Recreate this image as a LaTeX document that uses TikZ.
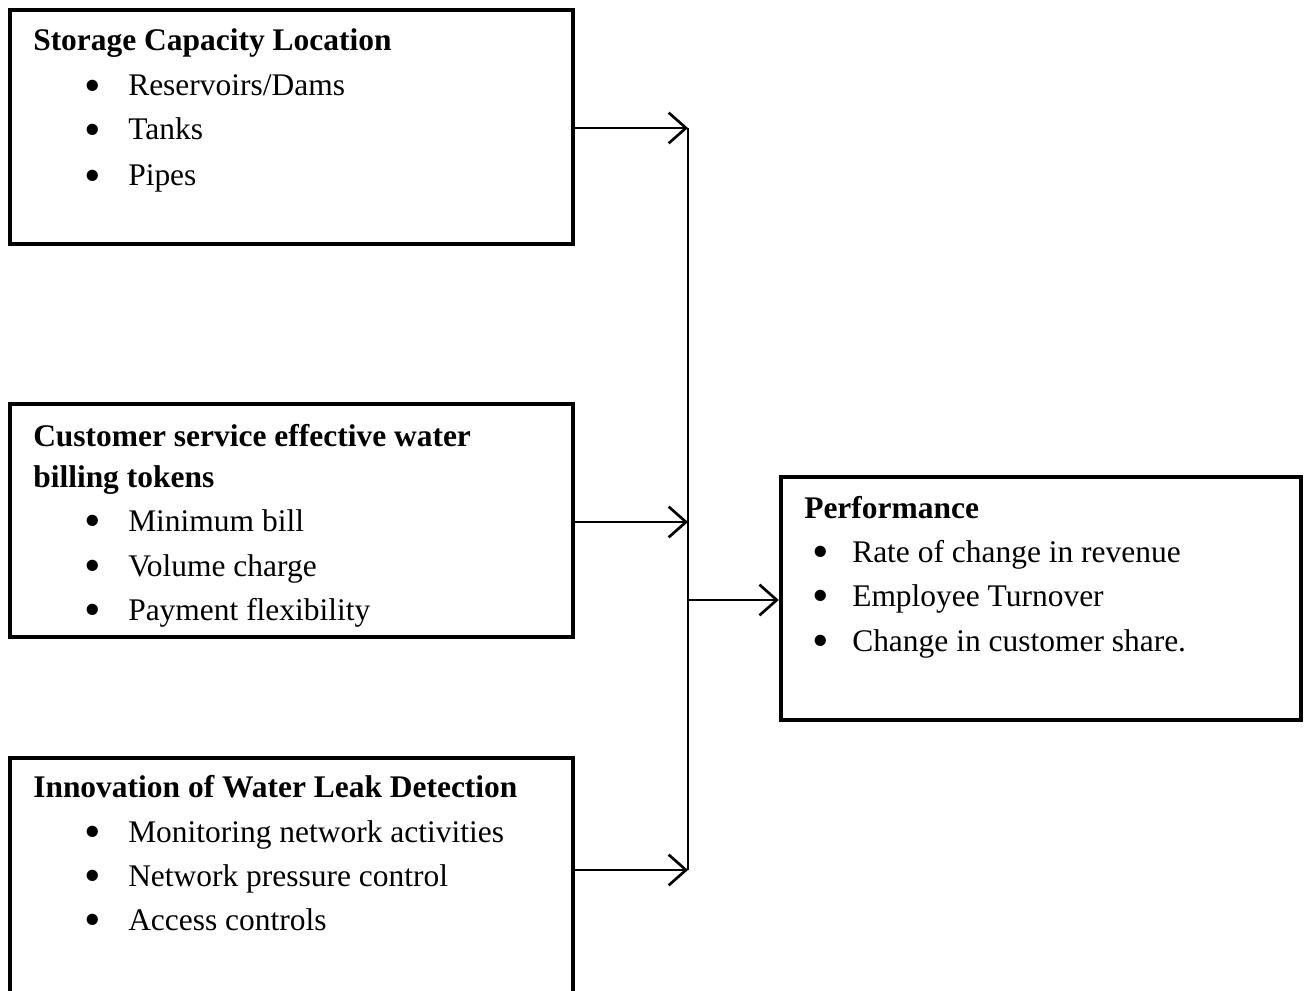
\documentclass[tikz,border=0pt]{standalone}
\usepackage{fontspec}
\setmainfont{Liberation Serif}
\usetikzlibrary{arrows.meta}
\newcommand{\bigbul}{\raisebox{-4pt}{\scalebox{1.5}{•}}}
\begin{document}
\begin{tikzpicture}[x=0.75pt,y=-0.75pt,
  box/.style={draw,line width=3.3pt,inner sep=0pt,minimum width=422.25pt},
  txt/.style={anchor=base west,inner sep=0pt,font=\fontsize{23.6}{28}\selectfont},
  ttl/.style={txt,font=\fontsize{23.6}{28}\selectfont\bfseries},
  bul/.style={anchor=base,inner sep=0pt,font=\fontsize{23.6}{28}\selectfont},
  conn/.style={line width=1.3pt},
  arr/.style={line width=2pt,-{Straight Barb[length=13pt,width=23pt,line width=2pt]}}]
\useasboundingbox (0,0) rectangle (1306,991);
\clip (0,0) rectangle (1306,991);
% boxes
\node[box,minimum height=175.5pt] (b1) at (291.5,127) {};
\node[box,minimum height=174.75pt] (b2) at (291.5,520.5) {};
\node[box,minimum height=181.5pt] (b3) at (291.5,879) {};
\node[box,minimum width=390pt,minimum height=182.25pt] (b4) at (1041,598.5) {};
% box 1 text
\node[ttl] (t1) at (33,51) {Storage Capacity Location};
\node[bul] (p11) at (93,96) {\bigbul};
\node[txt] (i11) at (128,96) {Reservoirs/Dams};
\node[bul] (p12) at (93,140) {\bigbul};
\node[txt] (i12) at (128,140) {Tanks};
\node[bul] (p13) at (93,186) {\bigbul};
\node[txt] (i13) at (128,186) {Pipes};
% box 2 text
\node[ttl] (t2a) at (33,446) {Customer service effective water};
\node[ttl] (t2b) at (33,487) {billing tokens};
\node[bul] (p21) at (93,531) {\bigbul};
\node[txt] (i21) at (128,531) {Minimum bill};
\node[bul] (p22) at (93,576) {\bigbul};
\node[txt] (i22) at (128,576) {Volume charge};
\node[bul] (p23) at (93,620) {\bigbul};
\node[txt] (i23) at (128,620) {Payment flexibility};
% box 3 text
\node[ttl] (t3) at (33,797) {Innovation of Water Leak Detection};
\node[bul] (p31) at (93,842) {\bigbul};
\node[txt] (i31) at (128,842) {Monitoring network activities};
\node[bul] (p32) at (93,886) {\bigbul};
\node[txt] (i32) at (128,886) {Network pressure control};
\node[bul] (p33) at (93,930) {\bigbul};
\node[txt] (i33) at (128,930) {Access controls};
% box 4 text
\node[ttl] (t4) at (804,518) {Performance};
\node[bul] (p41) at (821,562) {\bigbul};
\node[txt] (i41) at (852,562) {Rate of change in revenue};
\node[bul] (p42) at (821,606) {\bigbul};
\node[txt] (i42) at (852,606) {Employee Turnover};
\node[bul] (p43) at (821,651) {\bigbul};
\node[txt] (i43) at (852,651) {Change in customer share.};
% connectors
\coordinate (j1) at (688,128);
\coordinate (j2) at (688,522);
\coordinate (j3) at (688,870);
\coordinate (jp) at (688,600);
\draw[conn] (j1) -- (j3);
\draw[arr] (b1.east |- j1) -- (j1);
\draw[arr] (b2.east |- j2) -- (j2);
\draw[arr] (b3.east |- j3) -- (j3);
\draw[arr] (jp) -- (b4.west |- jp);
\end{tikzpicture}
\end{document}
